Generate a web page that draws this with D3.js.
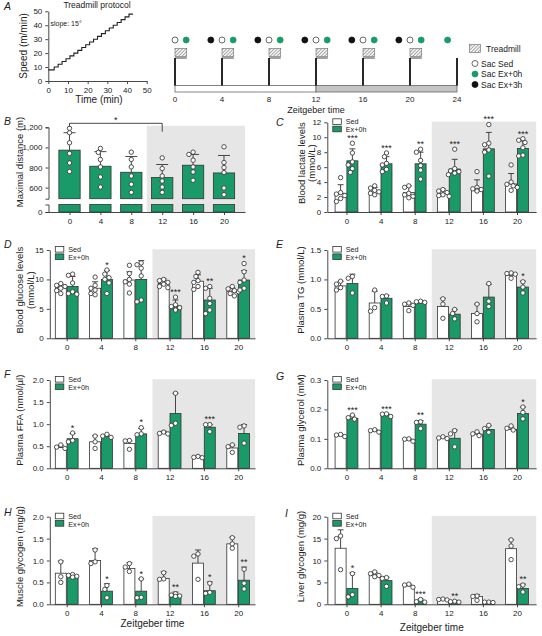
<!DOCTYPE html>
<html><head><meta charset="utf-8">
<script src="https://cdn.jsdelivr.net/npm/d3@7"></script>
<style>
body{margin:0;background:#fff}
text{font-family:"Liberation Sans",Arial,Helvetica,sans-serif;fill:#222}
</style>
</head><body><script>
// ---------------- DATA ----------------
const zt = [0, 4, 8, 12, 16, 20];

// Panel A – treadmill protocol
const protocolTime  = [0, 3, 5, 7, 9, 11, 13, 15, 17, 19, 21, 23, 25, 27, 29, 31, 33, 35, 37, 39, 41, 43];
const protocolSpeed = [8, 10, 12, 14, 16, 18, 20, 22, 24, 26, 28, 30, 32, 34, 36, 38, 40, 42, 44, 46, 48, 48];
const protocolTicks = [0, 10, 20, 30, 40, 50];
const timelineTicks = [0, 4, 8, 12, 16, 20, 24];
const exerciseStarts = [0, 4, 8, 12, 16, 20];
const sacSed = [0, 4, 8, 12, 16, 20];
const sacEx0 = [0.95, 4.95, 8.95, 12.95, 16.95, 20.95, 23.2];
const sacEx3 = [3.05, 7.05, 11.05, 15.05, 19.05];

// Panel B – maximal distance
const distMean = [973, 813, 753, 700, 823, 746];
const distSD   = [173, 145, 157, 130, 107, 174];
const distPts  = [[1190,1146,1046,940,846,760],[990,950,880,806,706,606],[953,880,806,716,633,553],
                  [896,790,716,666,606,553],[953,930,873,806,756,673],[1006,850,800,750,596,530]];

// Panel C – blood lactate
const lacSedMean = [2.5, 2.8, 2.6, 2.5, 3.2, 3.75];
const lacSedSD   = [1.15, 0.5, 0.9, 0.55, 1.1, 1.4];
const lacExMean  = [6.85, 6.45, 6.45, 5.75, 8.45, 8.5];
const lacExSD    = [1.6, 0.95, 1.55, 1.3, 2.2, 1.0];
const lacSedPts  = [[4.6,2.6,2.4,2.2,1.8,1.4],[3.5,3.2,2.9,2.7,2.5,2.3],[3.5,3.3,2.5,2.3,2.1,1.9],
                    [3.0,2.8,2.6,2.3,2.2,2.1],[5.4,3.3,3.1,3.0,2.9,2.8],[6.3,4.0,3.7,3.5,3.3,2.9]];
const lacExPts   = [[9.2,7.9,6.7,6.3,5.8,5.3],[7.9,7.4,6.5,6.3,5.7,5.4],[8.4,8.0,6.9,6.2,5.6,4.4],
                    [8.4,5.8,5.5,5.4,5.2,5.0],[11.7,9.2,9.0,8.3,8.0,4.8],[9.8,9.6,9.3,8.6,7.6,7.5]];
const lacStars   = ["***","***","**","***","***","***"];

// Panel D – blood glucose
const gluSedMean = [8.6, 8.5, 9.9, 9.3, 9.7, 8.0];
const gluSedSD   = [0.6, 1.1, 1.4, 0.8, 1.1, 0.6];
const gluExMean  = [8.8, 10.0, 10.0, 5.5, 6.5, 9.9];
const gluExSD    = [1.7, 1.5, 3.2, 1.0, 2.0, 1.6];
const gluSedPts  = [[9.3,9.0,8.8,8.5,8.1,7.6],[10.4,9.0,8.5,8.2,7.6,7.4],[12.4,11.0,10.0,9.6,9.2,7.7],
                    [10.0,9.8,9.5,9.2,8.8,8.6],[11.2,10.5,9.8,9.5,8.8,8.3],[8.8,8.4,8.1,7.9,7.6,7.2]];
const gluExPts   = [[10.9,10.7,9.4,7.9,7.6,7.5],[11.6,10.9,10.3,10.0,9.4,7.6],[12.8,12.5,11.9,10.6,6.5,6.2],
                    [7.0,5.7,5.4,5.2,4.9,4.8],[8.8,8.5,6.8,5.9,4.8,4.2],[12.7,11.3,9.9,9.5,8.5,8.2]];
const gluStars   = ["","*","","***","**","*"];

// Panel E – plasma TG
const tgSedMean = [0.89, 0.60, 0.54, 0.54, 0.42, 1.07];
const tgSedSD   = [0.08, 0.2, 0.06, 0.14, 0.16, 0.04];
const tgExMean  = [0.93, 0.68, 0.59, 0.41, 0.70, 0.87];
const tgExSD    = [0.16, 0.05, 0.04, 0.08, 0.22, 0.1];
const tgSedPts  = [[0.97,0.92,0.86,0.82],[0.82,0.52,0.46],[0.6,0.58,0.56,0.47],[0.67,0.58,0.34],[0.58,0.42,0.28],[1.11,1.1,1.09,1.02]];
const tgExPts   = [[1.05,1.02,0.77],[0.72,0.71,0.6],[0.63,0.62,0.61],[0.49,0.42,0.33],[0.93,0.63,0.54],[0.96,0.87,0.77]];
const tgStars   = ["","","","","","*"];

// Panel F – plasma FFA
const ffaSedMean = [0.47, 0.60, 0.56, 0.80, 0.25, 0.46];
const ffaSedSD   = [0.05, 0.14, 0.06, 0.04, 0.03, 0.06];
const ffaExMean  = [0.67, 0.72, 0.78, 1.24, 0.93, 0.79];
const ffaExSD    = [0.12, 0.04, 0.12, 0.46, 0.06, 0.2];
const ffaSedPts  = [[0.53,0.48,0.45],[0.73,0.6,0.45],[0.63,0.62,0.43],[0.82,0.79,0.78],[0.27,0.25,0.24],[0.53,0.49,0.36]];
const ffaExPts   = [[0.8,0.63,0.6],[0.77,0.73,0.7],[0.92,0.78,0.76],[1.7,1.02,0.97],[0.99,0.99,0.83],[0.96,0.93,0.57]];
const ffaStars   = ["*","","*","","***",""];

// Panel G – plasma glycerol
const glySedMean = [0.110, 0.127, 0.096, 0.104, 0.116, 0.132];
const glySedSD   = [0.005, 0.004, 0.004, 0.004, 0.005, 0.008];
const glyExMean  = [0.170, 0.181, 0.150, 0.102, 0.132, 0.186];
const glyExSD    = [0.008, 0.004, 0.012, 0.028, 0.013, 0.022];
const glySedPts  = [[0.115,0.113,0.108],[0.131,0.128,0.123],[0.100,0.099,0.092],[0.107,0.103,0.101],[0.124,0.117,0.111],[0.144,0.136,0.13]];
const glyExPts   = [[0.181,0.172,0.167],[0.185,0.184,0.176],[0.158,0.156,0.135],[0.128,0.117,0.073],[0.146,0.135,0.122],[0.208,0.19,0.168]];
const glyStars   = ["***","***","**","","","*"];

// Panel H – muscle glycogen
const mgSedMean = [0.71, 1.0, 0.82, 0.59, 0.94, 1.38];
const mgSedSD   = [0.28, 0.27, 0.13, 0.15, 0.3, 0.15];
const mgExMean  = [0.63, 0.30, 0.30, 0.21, 0.31, 0.55];
const mgExSD    = [0.05, 0.17, 0.28, 0.07, 0.2, 0.3];
const mgSedPts  = [[0.97,0.63,0.5],[1.24,0.97,0.93],[0.93,0.85,0.75],[0.72,0.58,0.57],[1.15,1.1,0.57],[1.52,1.38,1.28]];
const mgExPts   = [[0.68,0.66,0.64,0.62],[0.43,0.34,0.15],[0.58,0.16,0.15],[0.24,0.21,0.19,0.18],[0.48,0.27,0.25],[0.8,0.48,0.35]];
const mgStars   = ["","*","*","**","*","**"];

// Panel I – liver glycogen
const lgSedMean = [12.8, 6.7, 4.2, 1.1, 1.8, 12.7];
const lgSedSD   = [4.2, 0.6, 0.4, 0.2, 0.4, 2.1];
const lgExMean  = [3.6, 5.4, 0.6, 0.5, 0.45, 3.6];
const lgExSD    = [3.6, 0.8, 0.6, 0.3, 0.1, 1.0];
const lgSedPts  = [[15.6,15.0,7.9],[7.4,7.0,6.6,6.3],[4.6,4.4,3.9],[1.2,1.1,1.0],[1.9,1.8,0.9],[14.7,13.3,10.2]];
const lgExPts   = [[7.0,2.2,1.7],[6.1,5.9,4.1],[1.1,0.6,0.5],[0.7,0.6,0.5],[0.5,0.5,0.4],[4.4,4.0,2.8]];
const lgStars   = ["*","","***","**","","**"];

// ---------------- STYLE ----------------
const GREEN = "#1a9a68", AX = "#333", BG = "#e6e6e6";
const svg = d3.select("body").append("svg").attr("width", 542).attr("height", 636);
const defs = svg.append("defs");
const pat = defs.append("pattern").attr("id","hatch").attr("patternUnits","userSpaceOnUse")
  .attr("width",2.4).attr("height",2.4).attr("patternTransform","rotate(45)");
pat.append("rect").attr("width",2.4).attr("height",2.4).attr("fill","#f2f2f2");
pat.append("line").attr("x1",0).attr("y1",0).attr("x2",0).attr("y2",2.4).attr("stroke","#777").attr("stroke-width",1.1);

function fixAxis(g, fs){
  g.attr("font-family",null).attr("font-size",null);
  g.selectAll(".domain, .tick line").attr("stroke",AX).attr("stroke-width",0.9);
  g.selectAll("text").attr("font-size",fs||8).attr("fill","#222");
}
function panelLabel(t,x,y){
  svg.append("text").attr("x",x).attr("y",y).attr("font-size",10.5).attr("font-style","italic").text(t);
}
function yTitle(lines, xs, cy){
  lines.forEach((s,i)=>{
    svg.append("text").attr("transform",`translate(${xs[i]},${cy}) rotate(-90)`)
      .attr("text-anchor","middle").attr("dy","0.35em").attr("font-size",9.5).text(s);
  });
}
function swarm(vals, cx, y, r){
  const placed=[];
  const offs=[0,-1,1,-2,2,-3,3].map(k=>k*r*0.95);
  vals.slice().sort((a,b)=>b-a).forEach(v=>{
    const py=y(v); let best=0;
    for(const o of offs){
      if(placed.every(p=>Math.hypot(p.x-(cx+o),p.y-py)>=2*r*0.95)){best=o;break;}
    }
    placed.push({x:cx+best,y:py});
  });
  return placed;
}
function drawPoints(g, pts, r){
  g.selectAll(null).data(pts).enter().append("circle")
    .attr("cx",d=>d.x).attr("cy",d=>d.y).attr("r",r)
    .attr("fill","#fff").attr("stroke",AX).attr("stroke-width",0.85);
}
function errBar(g, cx, y0, y1, half){
  g.append("line").attr("x1",cx).attr("x2",cx).attr("y1",y0).attr("y2",y1).attr("stroke",AX).attr("stroke-width",0.9);
  g.append("line").attr("x1",cx-half).attr("x2",cx+half).attr("y1",y1).attr("y2",y1).attr("stroke",AX).attr("stroke-width",0.9);
}

// ---------------- PANEL A ----------------
panelLabel("A",4,10);
(function(){
  const g = svg.append("g");
  const x = d3.scaleLinear().domain([0,50]).range([48.3,146.7]);
  const y = d3.scaleLinear().domain([0,50]).range([81,11.3]);
  fixAxis(g.append("g").attr("transform","translate(0,81)").call(d3.axisBottom(x).tickValues(protocolTicks).tickSize(3).tickSizeOuter(0)),8);
  fixAxis(g.append("g").attr("transform","translate(48.3,0)").call(d3.axisLeft(y).tickValues(protocolTicks).tickSize(3).tickSizeOuter(0)),8);
  const line = d3.line().x(d=>x(d[0])).y(d=>y(d[1])).curve(d3.curveStepAfter);
  g.append("path").datum(protocolTime.map((t,i)=>[t,protocolSpeed[i]]))
    .attr("d",line).attr("fill","none").attr("stroke","#222").attr("stroke-width",1.1);
  g.append("text").attr("x",97).attr("y",8).attr("text-anchor","middle").attr("font-size",8.5).text("Treadmill protocol");
  g.append("text").attr("x",50.5).attr("y",25.5).attr("font-size",7).text("slope: 15°");
  g.append("text").attr("transform","translate(23,46) rotate(-90)").attr("text-anchor","middle").attr("dy","0.35em").attr("font-size",10).text("Speed (m/min)");
  g.append("text").attr("x",99).attr("y",103).attr("text-anchor","middle").attr("font-size",10).text("Time (min)");

  // timeline
  const t = d3.scaleLinear().domain([0,24]).range([175,457]);
  g.append("rect").attr("x",t(0)).attr("y",85.5).attr("width",t(12)-t(0)).attr("height",6.5).attr("fill","#fff").attr("stroke","#666").attr("stroke-width",0.8);
  g.append("rect").attr("x",t(12)).attr("y",85.5).attr("width",t(24)-t(12)).attr("height",6.5).attr("fill","#c4c4c4").attr("stroke","#666").attr("stroke-width",0.8);
  exerciseStarts.forEach(s=>{
    g.append("rect").attr("x",t(s)).attr("y",48.5).attr("width",t(s+1)-t(s)).attr("height",8).attr("fill","url(#hatch)").attr("stroke","#666").attr("stroke-width",0.6);
    g.append("line").attr("x1",t(s)).attr("x2",t(s)).attr("y1",58).attr("y2",85.5).attr("stroke","#111").attr("stroke-width",1.8);
    g.append("line").attr("x1",t(s)).attr("x2",t(s+1)).attr("y1",58).attr("y2",58).attr("stroke","#111").attr("stroke-width",0.8);
  });
  g.append("line").attr("x1",t(24)).attr("x2",t(24)).attr("y1",58).attr("y2",85.5).attr("stroke","#111").attr("stroke-width",1.8);
  g.selectAll(null).data(timelineTicks).enter().append("text").attr("x",d=>t(d)).attr("y",101.5)
    .attr("text-anchor","middle").attr("font-size",8).text(d=>d);
  g.append("text").attr("x",t(12)).attr("y",112.5).attr("text-anchor","middle").attr("font-size",9).text("Zeitgeber time");
  const circ=(arr,fill)=>g.selectAll(null).data(arr).enter().append("circle").attr("cx",d=>t(d)).attr("cy",40).attr("r",3)
    .attr("fill",fill).attr("stroke",fill==="#fff"?"#444":fill).attr("stroke-width",0.8);
  circ(sacSed,"#fff"); circ(sacEx0,GREEN); circ(sacEx3,"#111");
  // legend
  g.append("rect").attr("x",469.5).attr("y",44.5).attr("width",11).attr("height",8).attr("fill","url(#hatch)").attr("stroke","#666").attr("stroke-width",0.6);
  g.append("text").attr("x",486).attr("y",51.5).attr("font-size",8.5).text("Treadmill");
  [["Sac Sed","#fff"],["Sac Ex+0h",GREEN],["Sac Ex+3h","#111"]].forEach((d,i)=>{
    const cy=63.5+i*10.5;
    g.append("circle").attr("cx",475).attr("cy",cy).attr("r",3).attr("fill",d[1]).attr("stroke",d[1]==="#fff"?"#444":d[1]).attr("stroke-width",0.8);
    g.append("text").attr("x",481).attr("y",cy+3).attr("font-size",8.5).text(d[0]);
  });
})();

// ---------------- PANEL B ----------------
panelLabel("B",4,125);
(function(){
  const g = svg.append("g");
  const x = d3.scalePoint().domain(zt).range([48.5,245]).padding(0.68);
  const yU = d3.scaleLinear().domain([490,1200]).range([198.7,127.3]);
  const yL = d3.scaleLinear().domain([0,75]).range([212,204.5]);
  const bw = 21.3;
  g.append("rect").attr("x",(x(8)+x(12))/2).attr("y",125.7).attr("width",245-(x(8)+x(12))/2).attr("height",212-125.7).attr("fill",BG);
  zt.forEach((z,i)=>{
    const cx=x(z);
    g.append("rect").attr("x",cx-bw/2).attr("y",yU(distMean[i])).attr("width",bw).attr("height",198.7-yU(distMean[i]))
      .attr("fill",GREEN).attr("stroke",AX).attr("stroke-width",0.8);
    g.append("rect").attr("x",cx-bw/2).attr("y",204.5).attr("width",bw).attr("height",212-204.5)
      .attr("fill",GREEN).attr("stroke",AX).attr("stroke-width",0.8);
    errBar(g,cx,yU(distMean[i]),yU(distMean[i]+distSD[i]),6);
    drawPoints(g,swarm(distPts[i],cx,yU,2.2),2.2);
  });
  fixAxis(g.append("g").attr("transform","translate(48.5,0)").call(d3.axisLeft(yU).tickValues([600,800,1000,1200]).tickSize(3).tickSizeOuter(3)));
  fixAxis(g.append("g").attr("transform","translate(48.5,0)").call(d3.axisLeft(yL).tickValues([0]).tickSize(3).tickSizeOuter(3)));
  fixAxis(g.append("g").attr("transform","translate(0,212)").call(d3.axisBottom(x).tickSize(3).tickSizeOuter(0)));
  // significance bracket 0 vs 12
  g.append("path").attr("d",`M${x(0)},126.7V123.3H${x(12)}V131.7`).attr("fill","none").attr("stroke",AX).attr("stroke-width",0.9);
  g.append("text").attr("x",(x(0)+x(12))/2).attr("y",122.5).attr("text-anchor","middle").attr("font-size",9).text("*");
  yTitle(["Maximal distance (m)"],[20],162);
})();

// ---------------- GROUPED PANELS ----------------
function grouped(p){
  const g = svg.append("g");
  const x = d3.scalePoint().domain(zt).range(p.xr).padding(p.pad);
  const y = d3.scaleLinear().domain([0,p.max]).range(p.yr);
  const xEnd = p.xr[1], yBot=p.yr[0], yTop=p.yr[1];
  const gx0 = (x(8)+x(12))/2;
  g.append("rect").attr("x",gx0).attr("y",yTop-0.8).attr("width",xEnd-gx0).attr("height",yBot-yTop+0.8).attr("fill",BG);
  const bw = 11, gap = 0.4;
  zt.forEach((z,i)=>{
    const c = x(z);
    const sc = c-gap-bw/2, ec = c+gap+bw/2;
    g.append("rect").attr("x",sc-bw/2).attr("y",y(p.sedM[i])).attr("width",bw).attr("height",yBot-y(p.sedM[i]))
      .attr("fill","#fff").attr("stroke",AX).attr("stroke-width",0.8);
    g.append("rect").attr("x",ec-bw/2).attr("y",y(p.exM[i])).attr("width",bw).attr("height",yBot-y(p.exM[i]))
      .attr("fill",GREEN).attr("stroke",AX).attr("stroke-width",0.8);
    errBar(g,sc,y(p.sedM[i]),y(p.sedM[i]+p.sedS[i]),3);
    errBar(g,ec,y(p.exM[i]),y(p.exM[i]+p.exS[i]),3);
    drawPoints(g,swarm(p.sedP[i],sc,y,2.2),2.2);
    drawPoints(g,swarm(p.exP[i],ec,y,2.2),2.2);
    if(p.stars[i]){
      const top = Math.max(p.exM[i]+p.exS[i], d3.max(p.exP[i]));
      g.append("text").attr("x",ec).attr("y",y(top)-2.2).attr("text-anchor","middle").attr("font-size",9).text(p.stars[i]);
    }
  });
  fixAxis(g.append("g").attr("transform",`translate(${p.xr[0]},0)`).call(d3.axisLeft(y).tickValues(p.ticks).tickFormat(p.fmt).tickSize(3).tickSizeOuter(0)));
  fixAxis(g.append("g").attr("transform",`translate(0,${yBot})`).call(d3.axisBottom(x).tickSize(3).tickSizeOuter(0)));
  // legend
  const lx = p.xr[0]+5.5, ly = yTop-3.5;
  g.append("rect").attr("x",lx).attr("y",ly).attr("width",8.5).attr("height",5.6).attr("fill","#fff").attr("stroke",AX).attr("stroke-width",0.8);
  g.append("rect").attr("x",lx).attr("y",ly+7.4).attr("width",8.5).attr("height",5.6).attr("fill",GREEN).attr("stroke",AX).attr("stroke-width",0.8);
  g.append("text").attr("x",lx+13).attr("y",ly+5.3).attr("font-size",7.2).text("Sed");
  g.append("text").attr("x",lx+13).attr("y",ly+13.6).attr("font-size",7.2).text("Ex+0h");
  panelLabel(p.label,p.lx,p.ly);
  yTitle(p.ylab,p.ylx,(yTop+yBot)/2-4);
  if(p.xTitle) g.append("text").attr("x",(x(8)+x(12))/2).attr("y",p.xTitle).attr("text-anchor","middle").attr("font-size",10).text("Zeitgeber time");
}

const L = {xr:[49.8,255.1], pad:0.493}, R = {xr:[327.3,536.2], pad:0.563};
const f1 = d3.format(".1f"), fd = d3.format("d");

grouped({...R, label:"C", lx:276, ly:126, yr:[212,122.3], max:12, ticks:[0,2,4,6,8,10,12], fmt:fd,
  ylab:["Blood lactate levels","(mmol/L)"], ylx:[302,312],
  sedM:lacSedMean, sedS:lacSedSD, exM:lacExMean, exS:lacExSD, sedP:lacSedPts, exP:lacExPts, stars:lacStars});
grouped({...L, label:"D", lx:4, ly:248, yr:[338.3,250], max:15, ticks:[0,5,10,15], fmt:fd,
  ylab:["Blood glucose levels","(mmol/L)"], ylx:[20,31],
  sedM:gluSedMean, sedS:gluSedSD, exM:gluExMean, exS:gluExSD, sedP:gluSedPts, exP:gluExPts, stars:gluStars});
grouped({...R, label:"E", lx:276, ly:248, yr:[338.3,250], max:1.5, ticks:[0,0.5,1.0,1.5], fmt:f1,
  ylab:["Plasma TG (mmol/L)"], ylx:[301],
  sedM:tgSedMean, sedS:tgSedSD, exM:tgExMean, exS:tgExSD, sedP:tgSedPts, exP:tgExPts, stars:tgStars});
grouped({...L, label:"F", lx:4, ly:378, yr:[468.3,380], max:2, ticks:[0,0.5,1.0,1.5,2.0], fmt:f1,
  ylab:["Plasma FFA (nmol/µl)"], ylx:[20],
  sedM:ffaSedMean, sedS:ffaSedSD, exM:ffaExMean, exS:ffaExSD, sedP:ffaSedPts, exP:ffaExPts, stars:ffaStars});
grouped({...R, label:"G", lx:276, ly:380, yr:[468.3,380], max:0.3, ticks:[0,0.1,0.2,0.3], fmt:f1,
  ylab:["Plasma glycerol (mM)"], ylx:[301],
  sedM:glySedMean, sedS:glySedSD, exM:glyExMean, exS:glyExSD, sedP:glySedPts, exP:glyExPts, stars:glyStars});
grouped({...L, label:"H", lx:4, ly:516, yr:[604.3,516.7], max:2, ticks:[0,0.5,1.0,1.5,2.0], fmt:f1,
  ylab:["Muscle glycogen (mg/g)"], ylx:[20], xTitle:627,
  sedM:mgSedMean, sedS:mgSedSD, exM:mgExMean, exS:mgExSD, sedP:mgSedPts, exP:mgExPts, stars:mgStars});
grouped({...R, label:"I", lx:285, ly:517, yr:[604.3,516.7], max:20, ticks:[0,5,10,15,20], fmt:fd,
  ylab:["Liver glycogen (mg/g)"], ylx:[301], xTitle:631,
  sedM:lgSedMean, sedS:lgSedSD, exM:lgExMean, exS:lgExSD, sedP:lgSedPts, exP:lgExPts, stars:lgStars});
</script></body></html>
